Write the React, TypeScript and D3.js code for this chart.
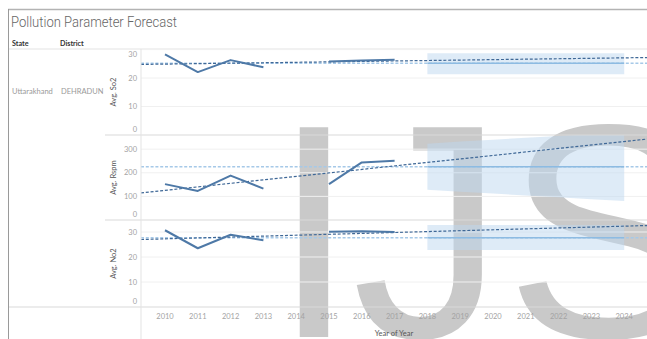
import React from "react";
import * as d3 from "d3";

// Observed yearly averages (null = no measurement that year)
const years = [2010, 2011, 2012, 2013, 2014, 2015, 2016, 2017];
const so2 = [28.3, 22.1, 26.3, 23.8, null, 25.8, 26.2, 26.4];
const rspm = [152, 123, 188, 133, null, 152, 244, 251];
const no2 = [30.7, 23.5, 28.9, 26.7, null, 30.1, 30.3, 30.0];

// Forecast horizon with point estimate and prediction interval
const forecastYears = [2018, 2019, 2020, 2021, 2022, 2023, 2024];
const so2Forecast = [25.2, 25.2, 25.2, 25.2, 25.2, 25.2, 25.2];
const so2Upper = [28.7, 28.7, 28.7, 28.7, 28.7, 28.7, 28.7];
const so2Lower = [21.3, 21.3, 21.3, 21.3, 21.3, 21.3, 21.3];
const rspmForecast = [225.7, 225.7, 225.7, 225.7, 225.7, 225.7, 225.7];
const rspmUpper = [323, 332, 340, 348, 356, 364, 371];
const rspmLower = [128, 120, 112, 104, 96, 88, 81];
const no2Forecast = [27.7, 27.7, 27.7, 27.7, 27.7, 27.7, 27.7];
const no2Upper = [32.8, 32.8, 32.8, 32.8, 32.8, 32.8, 32.8];
const no2Lower = [22.8, 22.8, 22.8, 22.8, 22.8, 22.8, 22.8];

// Linear trend endpoints
const trendYears = [2010, 2025];
const so2Trend = [24.9, 27.25];
const rspmTrend = [125.6, 347.3];
const no2Trend = [27.26, 32.7];

// Axis ticks
const yearTicks = [2010, 2011, 2012, 2013, 2014, 2015, 2016, 2017, 2018, 2019, 2020, 2021, 2022, 2023, 2024];
const so2Ticks = [0, 10, 20, 30];
const rspmTicks = [0, 100, 200, 300];
const no2Ticks = [0, 10, 20, 30];

const W = 647;
const H = 339;
const AXIS_X = 141;
const FONT = "Lato, 'Noto Sans', sans-serif";

const C_ACTUAL = "#4e79a7";
const C_TREND = "#3f6897";
const C_REF = "#a6c9e8";
const C_FCAST = "#8dbbe2";
const C_BAND = "rgb(189,215,239)";

const x = d3.scaleLinear().domain([2010, 2024]).range([165, 624.2]);

const panels = [
  { id: "so2", title: "Avg. So2", values: so2, forecast: so2Forecast, upper: so2Upper, lower: so2Lower, trend: so2Trend, ticks: so2Ticks, max: 30.2, top: 49, bottom: 135 },
  { id: "rspm", title: "Avg. Rspm", values: rspm, forecast: rspmForecast, upper: rspmUpper, lower: rspmLower, trend: rspmTrend, ticks: rspmTicks, max: 360, top: 135, bottom: 220 },
  { id: "no2", title: "Avg. No2", values: no2, forecast: no2Forecast, upper: no2Upper, lower: no2Lower, trend: no2Trend, ticks: no2Ticks, max: 34.8, top: 220, bottom: 307 },
];

function Panel({ p }: { p: (typeof panels)[number] }) {
  const y = d3.scaleLinear().domain([0, p.max]).range([p.bottom, p.top]);
  const trendAt = d3.scaleLinear().domain(trendYears).range(p.trend);
  const x0 = x.invert(AXIS_X);
  const x1 = x.invert(W + 20);

  const actualLine = d3
    .line<number | null>()
    .defined((d) => d != null)
    .x((_, i) => x(years[i]))
    .y((d) => y(d as number));

  const band = d3
    .area<number>()
    .x((d) => x(d))
    .y0((_, i) => y(p.lower[i]))
    .y1((_, i) => y(p.upper[i]));

  const fLine = d3
    .line<number>()
    .x((d) => x(d))
    .y((_, i) => y(p.forecast[i]));

  const refVal = p.forecast[0];
  const clipId = `clip-${p.id}`;

  return (
    <g>
      <defs>
        <clipPath id={clipId}>
          <rect x={AXIS_X} y={p.top} width={W - AXIS_X} height={p.bottom - p.top} />
        </clipPath>
      </defs>
      {/* gridlines */}
      {p.ticks
        .filter((t) => t > 0)
        .map((t) => (
          <line key={t} x1={AXIS_X} x2={W} y1={y(t)} y2={y(t)} stroke="#f0f0f0" strokeWidth={1} />
        ))}
      {/* tick labels */}
      {p.ticks.map((t) => {
        const ty = Math.max(p.top + 5, Math.min(p.bottom - 5.5, y(t)));
        return (
          <text key={t} x={137} y={ty} dy="0.35em" textAnchor="end" fontSize={7.5} fill="#a3a3a3" fontFamily={FONT}>
            {t}
          </text>
        );
      })}
      {/* axis title */}
      <text
        transform={`translate(116,${(p.top + p.bottom) / 2}) rotate(-90)`}
        textAnchor="middle"
        fontSize={7.5}
        fill="#555"
        fontFamily={FONT}
      >
        {p.title}
      </text>
      <g clipPath={`url(#${clipId})`}>
        <path d={band(forecastYears) || ""} fill={C_BAND} fillOpacity={0.5} />
        <line x1={AXIS_X} x2={W} y1={y(refVal)} y2={y(refVal)} stroke={C_REF} strokeWidth={1.5} strokeDasharray="3,1.8" />
        <path d={fLine(forecastYears) || ""} fill="none" stroke={C_FCAST} strokeWidth={1.5} />
        <line
          x1={x(x0)}
          x2={x(x1)}
          y1={y(trendAt(x0))}
          y2={y(trendAt(x1))}
          stroke={C_TREND}
          strokeWidth={1.2}
          strokeDasharray="3,1.8"
        />
        <path d={actualLine(p.values) || ""} fill="none" stroke={C_ACTUAL} strokeWidth={2} strokeLinejoin="round" />
      </g>
    </g>
  );
}

export default function App() {
  return (
    <div style={{ position: "fixed", left: 0, top: 0, width: W, height: H, background: "#fff" }}>
      <svg width={W} height={H} style={{ display: "block" }}>
        <rect width={W} height={H} fill="#fff" />
        {/* watermark lettering */}
        <g fontFamily="'Liberation Sans', Arial, sans-serif" fontSize={305} fill="#c9c9c9">
          <text x={271.6} y={337}>I</text>
          <text x={352} y={337}>J</text>
          <text x={505} y={337}>S</text>
        </g>

        {/* frame */}
        <line x1={8} x2={W} y1={9.5} y2={9.5} stroke="#b3b3b3" strokeWidth={1.5} />
        <line x1={8.5} x2={8.5} y1={9} y2={H} stroke="#9a9a9a" strokeWidth={1} />

        <text x={11} y={27} fontSize={14} fill="#666" fontFamily="Roboto, Lato, sans-serif" fontWeight={300} textLength={166} lengthAdjust="spacingAndGlyphs">
          Pollution Parameter Forecast
        </text>

        {/* column headers */}
        <text x={12} y={45.5} fontSize={7.2} fontWeight={700} fill="#333" fontFamily={FONT}>State</text>
        <text x={60} y={45.5} fontSize={7.2} fontWeight={700} fill="#333" fontFamily={FONT}>District</text>
        <line x1={9} x2={W} y1={49} y2={49} stroke="#e3e3e3" strokeWidth={1} />

        {/* row headers */}
        <text x={12} y={94} fontSize={7.5} fill="#9a9a9a" fontFamily={FONT}>Uttarakhand</text>
        <text x={61} y={94} fontSize={7.5} fill="#9a9a9a" fontFamily={FONT}>DEHRADUN</text>

        {panels.map((p) => (
          <Panel key={p.id} p={p} />
        ))}

        {/* panel separators and axis line */}
        <line x1={105} x2={W} y1={135} y2={135} stroke="#d9d9d9" strokeWidth={1} />
        <line x1={105} x2={W} y1={220} y2={220} stroke="#d9d9d9" strokeWidth={1} />
        <line x1={9} x2={W} y1={307} y2={307} stroke="#d9d9d9" strokeWidth={1} />
        <line x1={AXIS_X} x2={AXIS_X} y1={49} y2={H} stroke="#e3e3e3" strokeWidth={1} />

        {/* x axis */}
        {yearTicks.map((t) => (
          <text key={t} x={x(t)} y={316} dy="0.35em" textAnchor="middle" fontSize={7.5} fill="#a3a3a3" fontFamily={FONT}>
            {t}
          </text>
        ))}
        <text x={394} y={333} dy="0.35em" textAnchor="middle" fontSize={7.5} fill="#555" fontFamily={FONT}>
          Year of Year
        </text>
      </svg>
    </div>
  );
}
